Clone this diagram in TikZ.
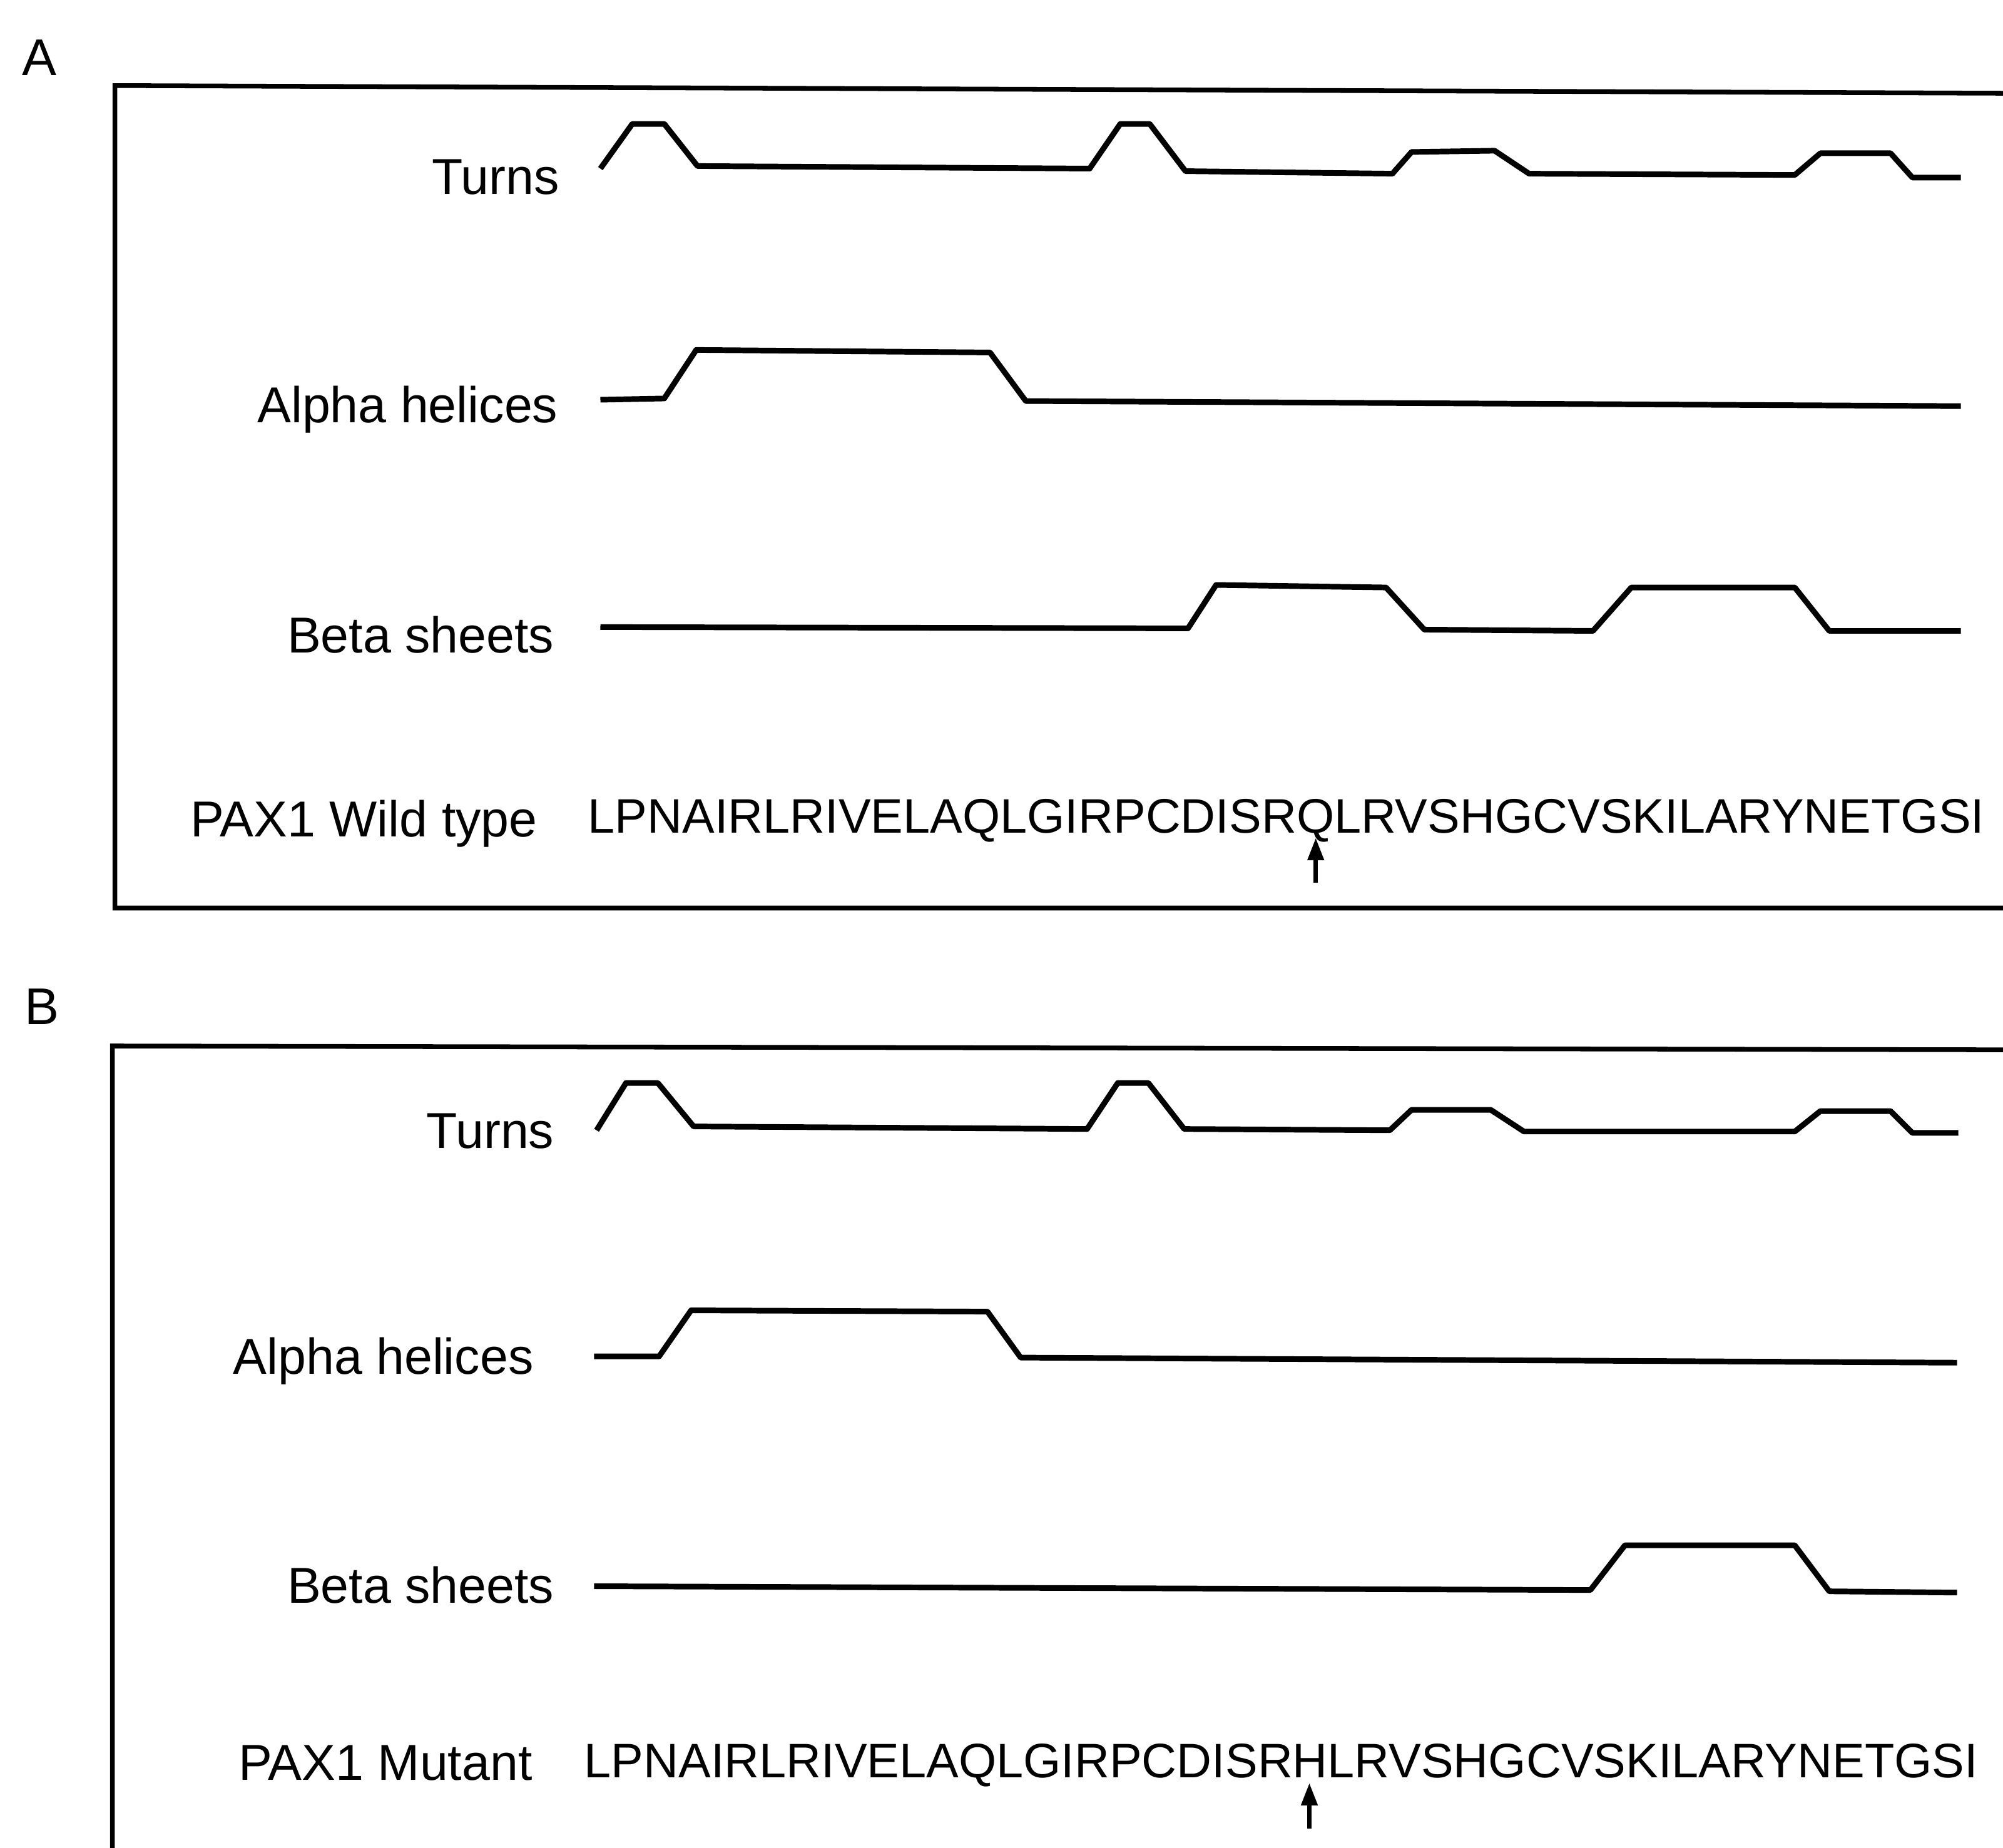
\documentclass[tikz,border=0pt]{standalone}
\usepackage{fontspec}
\setmainfont{Liberation Sans}
\usetikzlibrary{arrows.meta}

\tikzset{
  frame/.style={line width=2.1pt},
  curve/.style={line width=2.5pt,line join=round},
  lbl/.style={anchor=base east,inner sep=0pt,font=\fontsize{22.5}{25}\selectfont},
  seq/.style={anchor=base west,inner sep=0pt,font=\fontsize{21.6}{24}\selectfont},
  panel/.style={anchor=base west,inner sep=0pt,font=\fontsize{23}{26}\selectfont},
  arr/.style={line width=2pt,-{Triangle[length=10pt,width=7pt]}}
}

\begin{document}
\begin{tikzpicture}[x=0.02cm,y=-0.02cm]
        \useasboundingbox (0,0) rectangle (1568,1447);
        %面板A
        \node[panel] (panA) at (17,59) {A};
        \draw[frame] (1568,73) -- (90,67) -- (90,711) -- (1568,711);
        \node[lbl] (turnsA) at (438,152) {Turns};
        \node[lbl] (alphaA) at (437,331) {Alpha helices};
        \node[lbl] (betaA) at (434,511) {Beta sheets};
        \node[lbl] (wildA) at (421,655) {PAX1 Wild type};
        \node[seq] (seqA) at (460,652) {LPNAIRLRIVELAQLGIRPCDISRQLRVSHGCVSKILARYNETGSI};
        %画曲线
        \draw[curve] (470,132) -- (495,97) -- (520,97) -- (546,130) -- (853,132) -- (877,97) -- (900,97)
                -- (928,134) -- (1090,136) -- (1105,119) -- (1170,118) -- (1197,136) -- (1405,137)
                -- (1425,120) -- (1480,120) -- (1497,139) -- (1535,139);
        \draw[curve] (470,313) -- (520,312) -- (545,274) -- (775,276) -- (803,314) -- (1535,318);
        \draw[curve] (470,491) -- (930,492) -- (952,458) -- (1085,460) -- (1115,493) -- (1247,494)
                -- (1277,460) -- (1405,460) -- (1432,494) -- (1535,494);
        %突变位置
        \coordinate (mutA) at (1030,656);
        \coordinate (tailA) at (1030,691);
        \draw[arr] (tailA) -- (mutA);

        %面板B
        \node[panel] (panB) at (19,802) {B};
        \draw[frame] (1568,822) -- (88,819) -- (88,1447);
        \node[lbl] (turnsB) at (434,899) {Turns};
        \node[lbl] (alphaB) at (418,1076) {Alpha helices};
        \node[lbl] (betaB) at (434,1255) {Beta sheets};
        \node[lbl] (mutB) at (417,1394) {PAX1 Mutant};
        \node[seq] (seqB) at (457,1392) {LPNAIRLRIVELAQLGIRPCDISRHLRVSHGCVSKILARYNETGSI};
        %画曲线
        \draw[curve] (467,885) -- (490,848) -- (515,848) -- (543,882) -- (851,884) -- (875,848) -- (899,848)
                -- (927,884) -- (1088,885) -- (1105,869) -- (1167,869) -- (1193,886) -- (1405,886)
                -- (1425,870) -- (1480,870) -- (1497,887) -- (1533,887);
        \draw[curve] (465,1062) -- (516,1062) -- (541,1026) -- (773,1027) -- (799,1063) -- (1532,1067);
        \draw[curve] (465,1242) -- (1245,1245) -- (1272,1210) -- (1405,1210) -- (1432,1246) -- (1532,1247);
        %突变位置
        \coordinate (mutBpt) at (1025,1396);
        \coordinate (tailB) at (1025,1432);
        \draw[arr] (tailB) -- (mutBpt);
\end{tikzpicture}
\end{document}
